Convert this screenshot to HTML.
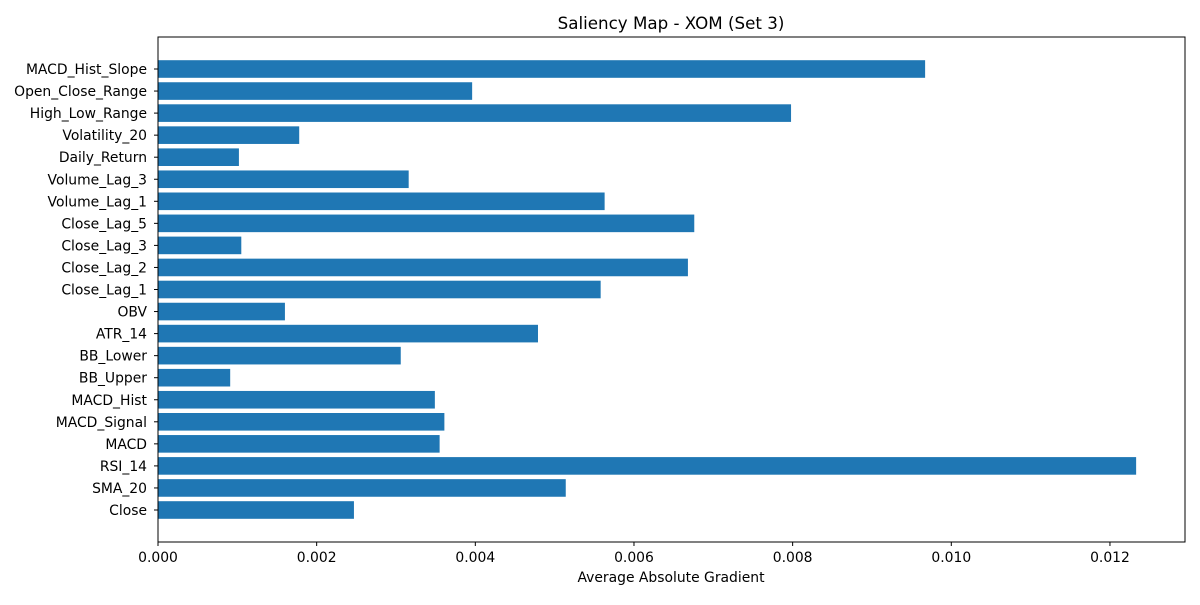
<!DOCTYPE html>
<html><head><meta charset="utf-8"><style>
body{margin:0;background:#fff;}
svg text{font-family:"DejaVu Sans","Liberation Sans",sans-serif;fill:#000;}
</style></head><body>
<svg id="chart" width="1200" height="600" xmlns="http://www.w3.org/2000/svg">
<text x="671" y="29" font-size="16.7" text-anchor="middle">Saliency Map - XOM (Set 3)</text>
<g id="bars"></g>
<g id="ticks"></g>
<rect x="158" y="37" width="1027" height="505" fill="none" stroke="#000" stroke-width="1"/>
<text x="671" y="582" font-size="13.9" text-anchor="middle">Average Absolute Gradient</text>
</svg>
<script>
const categories = ["Close","SMA_20","RSI_14","MACD","MACD_Signal","MACD_Hist","BB_Upper","BB_Lower","ATR_14","OBV","Close_Lag_1","Close_Lag_2","Close_Lag_3","Close_Lag_5","Volume_Lag_1","Volume_Lag_3","Daily_Return","Volatility_20","High_Low_Range","Open_Close_Range","MACD_Hist_Slope"];
const values = [0.00247,0.00514,0.01233,0.00355,0.00361,0.00349,0.00091,0.00306,0.00479,0.00160,0.00558,0.00668,0.00105,0.00676,0.00563,0.00316,0.00102,0.00178,0.00798,0.00396,0.00967];
const xTicks = [0,0.002,0.004,0.006,0.008,0.010,0.012];
const xTickLabels = ["0.000","0.002","0.004","0.006","0.008","0.010","0.012"];
const X0=158, X1=1185, XMAX=0.012946;
const x = v => X0 + v/XMAX*(X1-X0);
const yStep = 22.05, yFirst = 510;
const y = i => yFirst - i*yStep;
const NS="http://www.w3.org/2000/svg";
const bars=document.getElementById('bars'), ticks=document.getElementById('ticks');
categories.forEach((c,i)=>{
  const r=document.createElementNS(NS,'rect');
  r.setAttribute('x',X0); r.setAttribute('y',y(i)-8.8);
  r.setAttribute('width',x(values[i])-X0); r.setAttribute('height',17.6);
  r.setAttribute('fill','#1f77b4');
  
  
  bars.appendChild(r);
  const l=document.createElementNS(NS,'line');
  l.setAttribute('x1',X0-4);l.setAttribute('x2',X0);l.setAttribute('y1',y(i));l.setAttribute('y2',y(i));l.setAttribute('stroke','#000');
  
  
  ticks.appendChild(l);
  const t=document.createElementNS(NS,'text');
  t.setAttribute('x',X0-11);t.setAttribute('y',y(i)+5);t.setAttribute('font-size','13.9');t.setAttribute('text-anchor','end');
  t.textContent=c;
  
  
  ticks.appendChild(t);
});
xTicks.forEach((v,i)=>{
  const l=document.createElementNS(NS,'line');
  l.setAttribute('x1',x(v));l.setAttribute('x2',x(v));l.setAttribute('y1',542);l.setAttribute('y2',546);l.setAttribute('stroke','#000');
  
  
  ticks.appendChild(l);
  const t=document.createElementNS(NS,'text');
  t.setAttribute('x',x(v));t.setAttribute('y',562);t.setAttribute('font-size','13.9');t.setAttribute('text-anchor','middle');
  t.textContent=xTickLabels[i];
  
  
  ticks.appendChild(t);
});
</script>
</body></html>
